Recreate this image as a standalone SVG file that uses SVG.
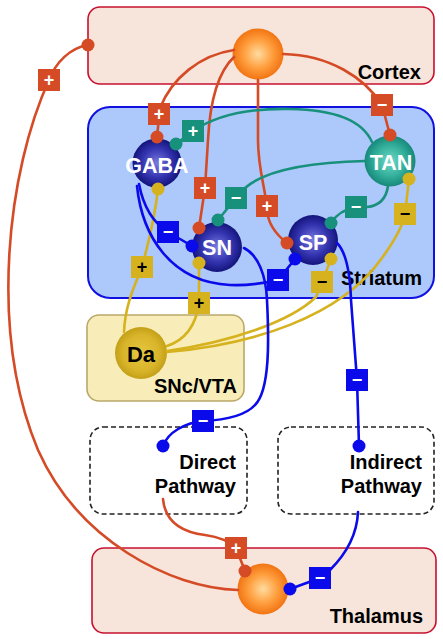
<svg xmlns="http://www.w3.org/2000/svg" width="443" height="642" viewBox="0 0 443 642">
<defs>
<radialGradient id="gOr" cx="50%" cy="50%" r="50%">
<stop offset="0" stop-color="#ffdca0"/><stop offset="0.55" stop-color="#ffa040"/><stop offset="1" stop-color="#f27412"/>
</radialGradient>
<radialGradient id="gBl" cx="50%" cy="50%" r="50%">
<stop offset="0" stop-color="#7a7ae0"/><stop offset="0.6" stop-color="#3434b0"/><stop offset="1" stop-color="#14147c"/>
</radialGradient>
<radialGradient id="gTe" cx="50%" cy="50%" r="50%">
<stop offset="0" stop-color="#6fd8c6"/><stop offset="0.6" stop-color="#34b09c"/><stop offset="1" stop-color="#16887a"/>
</radialGradient>
<radialGradient id="gGo" cx="50%" cy="50%" r="50%">
<stop offset="0" stop-color="#e6c840"/><stop offset="0.7" stop-color="#d8b42a"/><stop offset="1" stop-color="#c4a018"/>
</radialGradient>
</defs>
<style>
.lbl{font-family:"Liberation Sans",Arial,sans-serif;font-weight:bold;font-size:20px;fill:#000;text-anchor:end}
.nt{font-family:"Liberation Sans",Arial,sans-serif;font-weight:bold;font-size:21.5px;fill:#fff;text-anchor:middle}
.c{fill:none;stroke-width:2.6;stroke-linecap:round}
.r{stroke:#d44b26}.t{stroke:#17907c}.y{stroke:#d6b21e}.b{stroke:#0a0aea}
.dr{fill:#d44b26}.dt{fill:#17907c}.dy{fill:#d6b21e}.db{fill:#0a0aea}
.sg{font-family:"Liberation Sans",Arial,sans-serif;font-weight:bold;font-size:18px;text-anchor:middle;fill:#fff}
.sk{fill:#000}
</style>

<g id="cortex">
<rect x="88" y="7" width="346" height="77" rx="12" fill="#f7e4da" stroke="#c8102e" stroke-width="1.6"/>
<text class="lbl" x="421" y="79">Cortex</text>
</g>
<g id="striatum">
<rect x="88" y="107" width="346" height="191" rx="22" fill="#adc8fb" stroke="#1010e0" stroke-width="2"/>
<text class="lbl" x="422" y="285">Striatum</text>
</g>
<g id="snc-vta">
<rect x="87" y="315" width="157" height="86" rx="12" fill="#f8edb8" stroke="#baa86a" stroke-width="1.6"/>
<text class="lbl" x="237" y="393">SNc/VTA</text>
</g>
<g id="direct-pathway">
<rect x="90" y="427" width="157" height="87" rx="13" fill="#fff" stroke="#222" stroke-width="1.6" stroke-dasharray="5,3"/>
<text class="lbl" x="236" y="469">Direct</text>
<text class="lbl" x="236" y="493">Pathway</text>
</g>
<g id="indirect-pathway">
<rect x="278" y="427" width="156" height="87" rx="13" fill="#fff" stroke="#222" stroke-width="1.6" stroke-dasharray="5,3"/>
<text class="lbl" x="422" y="469">Indirect</text>
<text class="lbl" x="422" y="493">Pathway</text>
</g>
<g id="thalamus">
<rect x="92" y="548" width="344" height="85" rx="12" fill="#f7e4da" stroke="#c8102e" stroke-width="1.6"/>
<text class="lbl" x="423" y="623">Thalamus</text>
</g>

<g id="cortex-neuron"><circle cx="258" cy="54" r="25.5" fill="url(#gOr)"/></g>
<g id="thalamus-neuron"><circle cx="263" cy="589" r="25.5" fill="url(#gOr)"/></g>
<g id="gaba"><circle cx="157" cy="163" r="24.5" fill="url(#gBl)"/><text class="nt" x="157" y="173">GABA</text></g>
<g id="sn"><circle cx="217" cy="247" r="25" fill="url(#gBl)"/><text class="nt" x="217" y="255">SN</text></g>
<g id="sp"><circle cx="313" cy="240" r="25" fill="url(#gBl)"/><text class="nt" x="313" y="250">SP</text></g>
<g id="tan"><circle cx="390" cy="161" r="25.5" fill="url(#gTe)"/><text class="nt" x="391" y="170">TAN</text></g>
<g id="da"><circle cx="141" cy="353" r="26" fill="url(#gGo)"/><text class="nt" x="141" y="362" style="fill:#000;font-size:22px">Da</text></g>

<g id="connectors">
<!-- cortex outputs -->
<path class="c r" d="M88 45 C70 48 56 62 49 80 C8 170 -12 330 38 450 C78 540 170 588 238 590"/>
<path class="c r" d="M234 50 C200 55 172 78 160 108 L157 137"/>
<path class="c r" d="M234 57 C218 72 210 100 208 140 L205 188 L199 228"/>
<path class="c r" d="M258 80 L258 140 C258 170 266 190 267 210 C268 225 278 236 287 243"/>
<path class="c r" d="M283 54 C330 55 365 78 382 105 L390 135"/>
<!-- TAN outputs -->
<path class="c t" d="M372 142 C362 120 335 110 290 109 C245 108 215 116 193 131 L176 144"/>
<path class="c t" d="M365 161 C320 162 268 168 245 188 L236 198 L218 220"/>
<path class="c t" d="M388 186 C386 200 378 206 367 207 L356 207 C345 209 336 215 331 223"/>
<!-- Da outputs -->
<path class="c y" d="M124 332 C125 305 135 285 142 267 C148 245 155 215 158 189"/>
<path class="c y" d="M167 346 C185 340 196 325 199 303 L199 263"/>
<path class="c y" d="M167 351 C230 342 290 322 316 297 L322 282 L331 259"/>
<path class="c y" d="M167 352 C250 345 340 318 382 258 C395 240 403 225 405 214 L409 179"/>
<!-- GABA outputs -->
<path class="c b" d="M139 184 C143 205 152 222 168 232 L192 246"/>
<path class="c b" d="M137 186 C142 235 170 282 230 285 C250 286 265 283 278 280 L295 259"/>
<!-- SN / SP outputs -->
<path class="c b" d="M244 248 C258 255 266 275 267 300 C269 340 270 390 255 405 C245 416 225 420 203 421 C185 423 168 432 163 446"/>
<path class="c b" d="M337 243 C346 252 350 270 351 300 L357 380 L359 446"/>
<!-- pathways to thalamus -->
<path class="c r" d="M163 499 C165 520 180 532 205 535 C220 537 230 542 236 548 L245 571"/>
<path class="c b" d="M358 512 C357 535 345 555 330 570 L320 578 L290 589"/>

<!-- dots -->
<circle class="dr" cx="88" cy="45" r="6.5"/>
<circle class="dr" cx="157" cy="137" r="6.5"/>
<circle class="dr" cx="199" cy="228" r="6.5"/>
<circle class="dr" cx="287" cy="243" r="6.5"/>
<circle class="dr" cx="390" cy="135" r="6.5"/>
<circle class="dr" cx="245" cy="571" r="6.5"/>
<circle class="dt" cx="176" cy="144" r="6.5"/>
<circle class="dt" cx="218" cy="220" r="6.5"/>
<circle class="dt" cx="331" cy="223" r="6.5"/>
<circle class="dy" cx="158" cy="189" r="6.5"/>
<circle class="dy" cx="199" cy="263" r="6.5"/>
<circle class="dy" cx="331" cy="259" r="6.5"/>
<circle class="dy" cx="409" cy="179" r="6.5"/>
<circle class="db" cx="192" cy="246" r="6.5"/>
<circle class="db" cx="295" cy="259" r="6.5"/>
<circle class="db" cx="163" cy="446" r="6.5"/>
<circle class="db" cx="359" cy="446" r="6.5"/>
<circle class="db" cx="290" cy="589" r="6.5"/>

<!-- sign boxes -->
<rect class="dr" x="38" y="69" width="22" height="22"/><text class="sg" x="49" y="86">+</text>
<rect class="dr" x="148" y="103" width="22" height="22"/><text class="sg" x="159" y="120">+</text>
<rect class="dr" x="194" y="177" width="22" height="22"/><text class="sg" x="205" y="194">+</text>
<rect class="dr" x="256" y="195" width="22" height="22"/><text class="sg" x="267" y="212">+</text>
<rect class="dr" x="225" y="537" width="22" height="22"/><text class="sg" x="236" y="554">+</text>
<rect class="dr" x="371" y="94" width="22" height="22"/><text class="sg" x="382" y="111">−</text>
<rect class="dt" x="182" y="120" width="22" height="22"/><text class="sg" x="193" y="137">+</text>
<rect class="dt" x="225" y="187" width="22" height="22"/><text class="sg" x="236" y="204">−</text>
<rect class="dt" x="345" y="196" width="22" height="22"/><text class="sg" x="356" y="213">−</text>
<rect class="dy" x="131" y="256" width="22" height="22"/><text class="sg sk" x="142" y="273">+</text>
<rect class="dy" x="188" y="292" width="22" height="22"/><text class="sg sk" x="199" y="309">+</text>
<rect class="dy" x="311" y="271" width="22" height="22"/><text class="sg sk" x="322" y="288">−</text>
<rect class="dy" x="394" y="203" width="22" height="22"/><text class="sg sk" x="405" y="220">−</text>
<rect class="db" x="157" y="221" width="22" height="22"/><text class="sg" x="168" y="238">−</text>
<rect class="db" x="267" y="269" width="22" height="22"/><text class="sg" x="278" y="286">−</text>
<rect class="db" x="192" y="410" width="22" height="22"/><text class="sg" x="203" y="427">−</text>
<rect class="db" x="346" y="369" width="22" height="22"/><text class="sg" x="357" y="386">−</text>
<rect class="db" x="309" y="567" width="22" height="22"/><text class="sg" x="320" y="584">−</text>
</g>
</svg>
